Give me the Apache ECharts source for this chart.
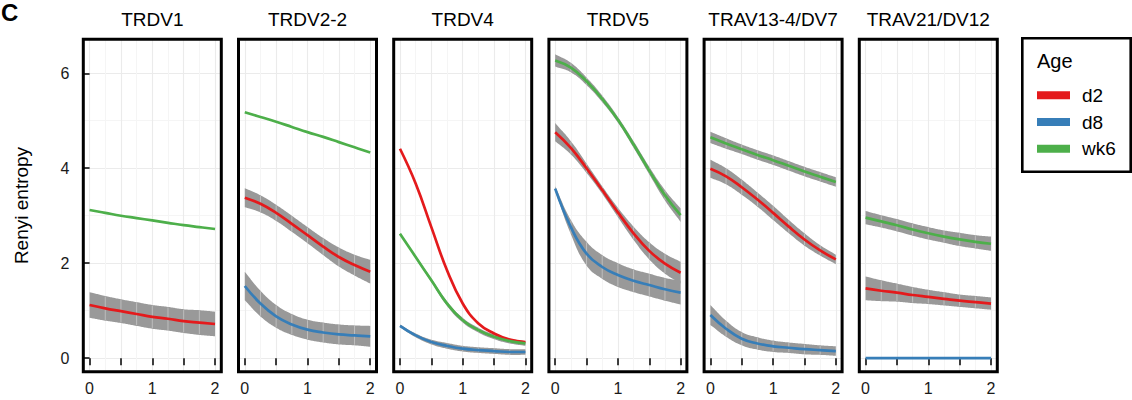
<!DOCTYPE html>
<html>
<head>
<meta charset="utf-8">
<script src="https://cdn.jsdelivr.net/npm/echarts@6/dist/echarts.min.js"></script>
<style>
html,body{margin:0;padding:0;background:#fff;}
#chart{width:1132px;height:400px;}
</style>
</head>
<body>
<div id="chart"></div>
<script>
// ---------- data ----------
const genes = ['TRDV1', 'TRDV2-2', 'TRDV4', 'TRDV5', 'TRAV13-4/DV7', 'TRAV21/DV12'];
const ages = ['d2', 'd8', 'wk6'];
const xs = [0, 0.25, 0.5, 0.75, 1, 1.25, 1.5, 1.75, 2];
const xTickValues = [0, 0.5, 1, 1.5, 2];
const xLabelValues = [0, 1, 2];
const xMinorValues = [0.25, 0.75, 1.25, 1.75];
const yTickValues = [0, 2, 4, 6];
const yMinorValues = [1, 3, 5];

// fitted means (per gene, in gene order); null = group absent
const d2Mean = [
  [1.12, 1.05, 0.99, 0.93, 0.87, 0.83, 0.78, 0.75, 0.72],
  [3.38, 3.25, 3.06, 2.83, 2.59, 2.35, 2.13, 1.96, 1.82],
  [4.41, 3.68, 2.76, 1.85, 1.15, 0.73, 0.52, 0.39, 0.34],
  [4.76, 4.43, 4.00, 3.54, 3.07, 2.63, 2.26, 1.99, 1.80],
  [3.99, 3.83, 3.60, 3.34, 3.06, 2.77, 2.50, 2.27, 2.08],
  [1.47, 1.42, 1.38, 1.33, 1.29, 1.25, 1.21, 1.18, 1.15]
];
// half widths of the grey confidence band; null = no visible band
const d2Half = [
  [0.27, 0.26, 0.25, 0.25, 0.25, 0.25, 0.25, 0.26, 0.26],
  [0.20, 0.18, 0.17, 0.17, 0.17, 0.18, 0.20, 0.22, 0.25],
  null,
  [0.19, 0.14, 0.10, 0.08, 0.10, 0.14, 0.18, 0.21, 0.23],
  [0.19, 0.17, 0.16, 0.15, 0.15, 0.14, 0.13, 0.11, 0.10],
  [0.25, 0.22, 0.19, 0.17, 0.15, 0.14, 0.13, 0.13, 0.13]
];
const d8Mean = [
  null,
  [1.52, 1.15, 0.88, 0.71, 0.60, 0.54, 0.50, 0.48, 0.46],
  [0.68, 0.48, 0.34, 0.26, 0.20, 0.17, 0.15, 0.13, 0.13],
  [3.57, 2.76, 2.20, 1.92, 1.75, 1.63, 1.54, 1.45, 1.38],
  [0.91, 0.62, 0.41, 0.31, 0.25, 0.22, 0.19, 0.17, 0.15],
  [0, 0, 0, 0, 0, 0, 0, 0, 0]
];
const d8Half = [
  null,
  [0.30, 0.27, 0.24, 0.22, 0.21, 0.21, 0.21, 0.21, 0.22],
  [0.03, 0.04, 0.05, 0.06, 0.06, 0.06, 0.06, 0.06, 0.06],
  [0.05, 0.15, 0.25, 0.25, 0.25, 0.24, 0.24, 0.24, 0.25],
  [0.21, 0.17, 0.14, 0.13, 0.12, 0.11, 0.11, 0.10, 0.10],
  null
];
const wk6Mean = [
  [3.12, 3.06, 3.00, 2.95, 2.90, 2.85, 2.80, 2.76, 2.72],
  [5.18, 5.08, 4.98, 4.87, 4.76, 4.66, 4.55, 4.44, 4.33],
  [2.62, 2.13, 1.64, 1.15, 0.80, 0.59, 0.45, 0.36, 0.31],
  [6.27, 6.12, 5.83, 5.46, 5.02, 4.50, 3.95, 3.43, 3.01],
  [4.65, 4.52, 4.40, 4.28, 4.17, 4.05, 3.93, 3.82, 3.71],
  [2.96, 2.88, 2.80, 2.71, 2.63, 2.56, 2.50, 2.45, 2.41]
];
const wk6Half = [
  null,
  null,
  [0.02, 0.03, 0.04, 0.05, 0.05, 0.05, 0.05, 0.05, 0.05],
  [0.13, 0.10, 0.08, 0.07, 0.06, 0.07, 0.08, 0.11, 0.14],
  [0.12, 0.11, 0.10, 0.10, 0.10, 0.10, 0.10, 0.10, 0.10],
  [0.14, 0.13, 0.13, 0.13, 0.13, 0.13, 0.14, 0.14, 0.15]
];

// ---------- styling / layout ----------
const means = { d2: d2Mean, d8: d8Mean, wk6: wk6Mean };
const halves = { d2: d2Half, d8: d8Half, wk6: wk6Half };
const colors = { d2: '#E41A1C', d8: '#377EB8', wk6: '#4DAF4A' };
const FONT = '"Liberation Sans", Arial, Helvetica, sans-serif';
const SMOOTH = 0.45;
const panelLeft0 = 83.3, panelPitch = 155.2, panelW = 138, panelTop = 39.3, panelH = 332.4;
const xMin = -0.1, xMax = 2.1, yMin = -0.285, yMax = 6.715;

// smooth a polyline of screen points (bezier like ECharts' line smoothing)
function smoothSample(p, s) {
  const n = p.length, out = [];
  const cps = p.map((c, i) => {
    const prev = p[Math.max(i - 1, 0)], next = p[Math.min(i + 1, n - 1)];
    const vx = next[0] - prev[0], vy = next[1] - prev[1];
    const dp = Math.hypot(c[0] - prev[0], c[1] - prev[1]);
    const dn = Math.hypot(next[0] - c[0], next[1] - c[1]);
    const r = (dp + dn) > 0 ? dn / (dp + dn) : 0.5;
    return { o: [c[0] + vx * s * r, c[1] + vy * s * r], i: [c[0] - vx * s * (1 - r), c[1] - vy * s * (1 - r)] };
  });
  const steps = 16;
  for (let k = 0; k < n - 1; k++) {
    const a = p[k], b = cps[k].o, c = cps[k + 1].i, d = p[k + 1];
    for (let t = 0; t < steps; t++) {
      const u = t / steps, v = 1 - u;
      out.push([
        v * v * v * a[0] + 3 * v * v * u * b[0] + 3 * v * u * u * c[0] + u * u * u * d[0],
        v * v * v * a[1] + 3 * v * v * u * b[1] + 3 * v * u * u * c[1] + u * u * u * d[1]
      ]);
    }
  }
  out.push(p[n - 1]);
  return out;
}

function bandRender(params, api) {
  if (params.dataIndexInside !== 0) return null;
  const n = params.dataInsideLength;
  const top = [], bot = [];
  for (let k = 0; k < n; k++) {
    top.push(api.coord([api.value(0, k), api.value(2, k)]));
    bot.push(api.coord([api.value(0, k), api.value(1, k)]));
  }
  const children = [{
    type: 'polygon',
    shape: { points: smoothSample(top, SMOOTH).concat(smoothSample(bot, SMOOTH).reverse()) },
    style: { fill: '#999999', stroke: null }
  }];
  // faint seams between ribbon pieces, as in the source rendering
  for (let k = 1; k < n - 1; k++) {
    children.push({
      type: 'line',
      shape: { x1: top[k][0], y1: top[k][1] + 0.6, x2: bot[k][0], y2: bot[k][1] - 0.6 },
      style: { stroke: 'rgba(255,255,255,0.45)', lineWidth: 0.8 }
    });
  }
  return { type: 'group', children: children };
}

const grid = [], xAxis = [], yAxis = [], series = [], graphic = [];

genes.forEach((gene, i) => {
  const left = panelLeft0 + i * panelPitch;
  grid.push({
    left: left, top: panelTop, width: panelW, height: panelH,
    show: true, z: 10, backgroundColor: 'transparent',
    borderColor: '#000', borderWidth: 3
  });
  xAxis.push({
    type: 'value', gridIndex: i, min: xMin, max: xMax,
    axisLine: { show: false },
    axisTick: { show: true, customValues: xTickValues, length: 7, lineStyle: { color: '#000', width: 1.5 } },
    axisLabel: { customValues: xLabelValues, margin: 9, fontSize: 16, color: '#1a1a1a', fontFamily: FONT,
                 formatter: v => String(v) },
    splitLine: { show: true, lineStyle: { color: '#EBEBEB', width: 1.1 } }
  });
  xAxis.push({
    type: 'value', gridIndex: i, min: xMin, max: xMax,
    axisLine: { show: false },
    axisTick: { show: false, customValues: xMinorValues },
    axisLabel: { show: false, customValues: xMinorValues },
    splitLine: { show: true, lineStyle: { color: '#F5F5F5', width: 1 } }
  });
  yAxis.push({
    type: 'value', gridIndex: i, min: yMin, max: yMax,
    name: i === 0 ? 'Renyi entropy' : '',
    nameLocation: 'middle', nameGap: 52,
    nameTextStyle: { fontSize: 19, color: '#000', fontFamily: FONT },
    axisLine: { show: false },
    axisTick: { show: i === 0, customValues: yTickValues, length: 7, lineStyle: { color: '#000', width: 1.5 } },
    axisLabel: { show: i === 0, customValues: yTickValues, margin: 14, fontSize: 16, color: '#1a1a1a', fontFamily: FONT },
    splitLine: { show: true, lineStyle: { color: '#EBEBEB', width: 1.1 } }
  });
  yAxis.push({
    type: 'value', gridIndex: i, min: yMin, max: yMax,
    axisLine: { show: false },
    axisTick: { show: false, customValues: yMinorValues },
    axisLabel: { show: false, customValues: yMinorValues },
    splitLine: { show: true, lineStyle: { color: '#F5F5F5', width: 1 } }
  });

  graphic.push({
    type: 'text', x: left + panelW / 2, y: 19, silent: true,
    style: { text: gene, font: '19px ' + FONT, fill: '#000',
             textAlign: 'center', textVerticalAlign: 'middle', align: 'center', verticalAlign: 'middle' }
  });

  // confidence bands (custom polygons through the axes' scales)
  ages.forEach(age => {
    const m = means[age][i], h = halves[age][i];
    if (!m || !h) return;
    series.push({
      type: 'custom', name: 'band', xAxisIndex: 2 * i, yAxisIndex: 2 * i,
      data: xs.map((x, k) => [x, m[k] - h[k], m[k] + h[k]]),
      encode: { x: 0, y: [1, 2] },
      renderItem: bandRender, silent: true, clip: true, z: 1
    });
  });
});

// fitted lines on top
genes.forEach((gene, i) => {
  ages.forEach(age => {
    const m = means[age][i];
    if (!m) return;
    series.push({
      type: 'line', name: age, xAxisIndex: 2 * i, yAxisIndex: 2 * i,
      data: xs.map((x, k) => [x, m[k]]),
      smooth: SMOOTH, symbol: 'none', silent: true,
      color: colors[age],
      lineStyle: { color: colors[age], width: 2.7 }, z: 3
    });
  });
});

// legend frame, title, panel tag
graphic.push({
  type: 'rect', silent: true, z: 20,
  shape: { x: 1022.3, y: 38.3, width: 108.4, height: 133.4 },
  style: { fill: 'none', stroke: '#000', lineWidth: 2.6 }
});
graphic.push({
  type: 'text', x: 1037, y: 61, silent: true,
  style: { text: 'Age', font: '20px ' + FONT, fill: '#000',
           textAlign: 'left', textVerticalAlign: 'middle', align: 'left', verticalAlign: 'middle' }
});
graphic.push({
  type: 'text', x: 1, y: 0, silent: true,
  style: { text: 'C', font: 'bold 24px ' + FONT, fill: '#000',
           textAlign: 'left', textVerticalAlign: 'top', align: 'left', verticalAlign: 'top' }
});

const chart = echarts.init(document.getElementById('chart'), null, { renderer: 'svg' });
chart.setOption({
  animation: false,
  backgroundColor: '#ffffff',
  textStyle: { fontFamily: FONT },
  grid: grid,
  xAxis: xAxis,
  yAxis: yAxis,
  legend: {
    data: ages, orient: 'vertical', left: 1037, top: 85.3,
    itemWidth: 33, itemHeight: 8, itemGap: 6.7, icon: 'rect', padding: 0,
    selectedMode: false,
    textStyle: { fontSize: 19, lineHeight: 20, color: '#000', fontFamily: FONT, padding: [0, 0, 0, 7] }
  },
  graphic: graphic,
  series: series
});
</script>
</body>
</html>
